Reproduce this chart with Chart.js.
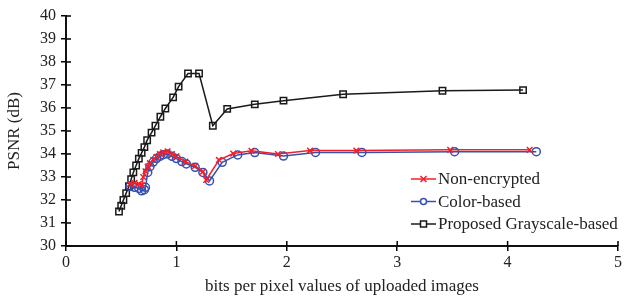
<!DOCTYPE html>
<html>
<head>
<meta charset="utf-8">
<script src="https://cdn.jsdelivr.net/npm/chart.js@4/dist/chart.umd.min.js"></script>
<style>
  html, body { margin: 0; padding: 0; background: #fff; }
  #wrap { width: 632px; height: 297px; }
</style>
</head>
<body>
<div id="wrap"><canvas id="js--chart"></canvas></div>
<script>
/* data, gelezen uit de figuur */
const xTicks = [0, 1, 2, 3, 4, 5];
const yTicks = [30, 31, 32, 33, 34, 35, 36, 37, 38, 39, 40];

const seriesNames = ["Non-encrypted", "Color-based", "Proposed Grayscale-based"];

const plainBpp  = [0.58, 0.62, 0.66, 0.685, 0.70, 0.72, 0.74, 0.76, 0.79, 0.82, 0.85, 0.88, 0.92, 0.96, 1.00, 1.08, 1.17, 1.24, 1.27, 1.385, 1.515, 1.68, 1.92, 2.21, 2.63, 3.48, 4.20];
const plainPsnr = [32.70, 32.75, 32.70, 32.65, 33.00, 33.25, 33.45, 33.60, 33.75, 33.88, 34.00, 34.07, 34.12, 34.00, 33.90, 33.67, 33.48, 33.23, 32.87, 33.74, 34.02, 34.14, 34.00, 34.15, 34.15, 34.18, 34.18];

const colorBpp  = [0.58, 0.62, 0.66, 0.685, 0.71, 0.72, 0.74, 0.76, 0.79, 0.82, 0.85, 0.88, 0.92, 0.96, 1.00, 1.05, 1.09, 1.17, 1.24, 1.30, 1.415, 1.555, 1.71, 1.97, 2.26, 2.68, 3.52, 4.26];
const colorPsnr = [32.60, 32.55, 32.50, 32.40, 32.45, 32.55, 33.20, 33.45, 33.65, 33.80, 33.90, 33.97, 34.00, 33.90, 33.80, 33.67, 33.57, 33.42, 33.20, 32.83, 33.64, 33.96, 34.06, 33.91, 34.07, 34.07, 34.10, 34.10];

const grayBpp  = [0.48, 0.50, 0.52, 0.545, 0.57, 0.59, 0.61, 0.635, 0.66, 0.685, 0.71, 0.735, 0.775, 0.81, 0.855, 0.90, 0.97, 1.02, 1.105, 1.205, 1.33, 1.46, 1.71, 1.97, 2.51, 3.41, 4.14];
const grayPsnr = [31.50, 31.75, 32.00, 32.30, 32.60, 32.90, 33.20, 33.50, 33.80, 34.05, 34.30, 34.60, 34.93, 35.23, 35.62, 35.98, 36.46, 36.93, 37.50, 37.50, 35.23, 35.96, 36.16, 36.32, 36.60, 36.75, 36.78];

function toPoints(xs, ys) {
    return xs.map(function (x, i) { return { x: x, y: ys[i] }; });
}

const FONT = "'Liberation Serif', 'Times New Roman', serif";

const datasets = [
    {
        label: seriesNames[0],
        data: toPoints(plainBpp, plainPsnr),
        borderColor: '#f0202a',
        backgroundColor: '#f0202a',
        pointStyle: 'crossRot',
        pointRadius: 4,
        pointBorderWidth: 1.5,
        borderWidth: 1.5
    },
    {
        label: seriesNames[1],
        data: toPoints(colorBpp, colorPsnr),
        borderColor: '#3550b0',
        backgroundColor: 'rgba(0,0,0,0)',
        pointStyle: 'circle',
        pointRadius: 4,
        pointBorderWidth: 1.5,
        borderWidth: 1.5
    },
    {
        label: seriesNames[2],
        data: toPoints(grayBpp, grayPsnr),
        borderColor: '#1a1a1a',
        backgroundColor: 'rgba(0,0,0,0)',
        pointStyle: 'rect',
        pointRadius: 4.5,
        pointBorderWidth: 1.5,
        borderWidth: 1.5
    }
];

// ticks die ook naar binnen steken
const innerTicks = {
    id: 'innerTicks',
    afterDraw(chart) {
        const ctx = chart.ctx;
        const xs = chart.scales.x, ys = chart.scales.y;
        ctx.save();
        ctx.strokeStyle = '#000';
        ctx.lineWidth = 1.5;
        ctx.beginPath();
        xTicks.forEach(function (v) {
            const px = xs.getPixelForValue(v);
            ctx.moveTo(px, xs.top);
            ctx.lineTo(px, xs.top - 5);
        });
        yTicks.forEach(function (v) {
            const py = ys.getPixelForValue(v);
            ctx.moveTo(ys.right, py);
            ctx.lineTo(ys.right + 5, py);
        });
        ctx.stroke();
        ctx.restore();
    }
};

// legenda in de grafiek, rechtsonder
const insideLegend = {
    id: 'insideLegend',
    afterDraw(chart) {
        const ctx = chart.ctx;
        const area = chart.chartArea;
        const x0 = area.right - 207;
        const y0 = area.bottom - 67;
        ctx.save();
        ctx.font = '17px ' + FONT;
        ctx.textBaseline = 'middle';
        chart.data.datasets.forEach(function (ds, i) {
            const y = y0 + i * 22.5;
            ctx.strokeStyle = ds.borderColor;
            ctx.lineWidth = 1.5;
            ctx.beginPath();
            ctx.moveTo(x0, y);
            ctx.lineTo(x0 + 25, y);
            ctx.stroke();
            const cx = x0 + 12.5, r = 3;
            ctx.beginPath();
            if (ds.pointStyle === 'crossRot') {
                ctx.moveTo(cx - r, y - r); ctx.lineTo(cx + r, y + r);
                ctx.moveTo(cx + r, y - r); ctx.lineTo(cx - r, y + r);
            } else if (ds.pointStyle === 'circle') {
                ctx.arc(cx, y, r, 0, Math.PI * 2);
            } else {
                ctx.rect(cx - r, y - r, 2 * r, 2 * r);
            }
            ctx.fillStyle = '#fff';
            if (ds.pointStyle !== 'crossRot') ctx.fill();
            ctx.stroke();
            ctx.fillStyle = '#222';
            ctx.fillText(ds.label, x0 + 27, y + 1);
        });
        ctx.restore();
    }
};

const config = {
    type: 'line',
    data: { datasets: datasets },
    plugins: [innerTicks, insideLegend],
    options: {
        responsive: true,
        maintainAspectRatio: false,
        animation: false,
        layout: { padding: { top: 16, right: 14, left: 0, bottom: 0 } },
        plugins: {
            legend: { display: false },
            tooltip: { enabled: false }
        },
        scales: {
            x: {
                type: 'linear',
                min: 0,
                max: 5,
                afterBuildTicks: function (s) { s.ticks = xTicks.map(function (v) { return { value: v }; }); },
                afterFit: function (s) { s.height = 51; },
                grid: { drawOnChartArea: false, drawTicks: true, tickLength: 5, color: '#000', lineWidth: 1.5 },
                border: { color: '#111', width: 2 },
                ticks: { color: '#222', padding: 2, font: { family: FONT, size: 16 } },
                title: { display: true, text: 'bits per pixel values of uploaded images', color: '#222', padding: { top: 0, bottom: 0 }, font: { family: FONT, size: 17 } }
            },
            y: {
                min: 30,
                max: 40,
                afterBuildTicks: function (s) { s.ticks = yTicks.map(function (v) { return { value: v }; }); },
                afterFit: function (s) { s.width = 66; },
                grid: { drawOnChartArea: false, drawTicks: true, tickLength: 5, color: '#000', lineWidth: 1.5 },
                border: { color: '#111', width: 2 },
                ticks: { color: '#222', padding: 5, font: { family: FONT, size: 16 } },
                title: { display: true, text: 'PSNR (dB)', color: '#222', padding: { top: 4, bottom: 0 }, font: { family: FONT, size: 17 } }
            }
        },
        elements: { line: { tension: 0 } }
    }
};

new Chart(document.getElementById("js--chart"), config);
</script>
</body>
</html>
